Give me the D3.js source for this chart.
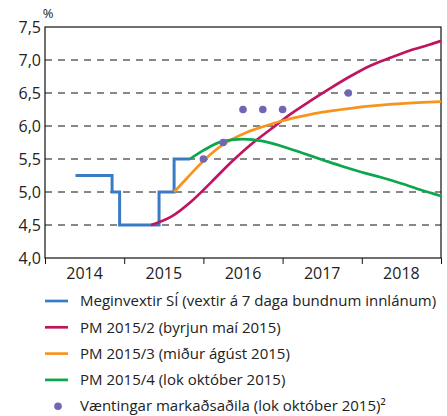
<!DOCTYPE html>
<html>
<head>
<meta charset="utf-8">
<script src="https://cdn.jsdelivr.net/npm/d3@7"></script>
<style>
  body { margin: 0; background: #fff; }
  text { font-family: "Open Sans", sans-serif; fill: #222; }
</style>
</head>
<body>
<svg id="chart" width="447" height="416"></svg>
<script>
// policy rate (step series), decimal years
var rateT = [2014.385, 2014.847, 2014.942, 2015.44, 2015.63, 2015.83];
var rateV = [5.25, 5.00, 4.50, 5.00, 5.50, 5.50];

// PM 2015/2
var pm2T = [2015.34, 2015.6, 2015.85, 2016.1, 2016.35, 2016.6, 2016.85, 2017.1, 2017.35, 2017.6, 2017.85, 2018.1, 2018.35, 2018.6, 2018.85, 2019.0];
var pm2V = [4.50, 4.63, 4.86, 5.15, 5.45, 5.72, 5.95, 6.18, 6.38, 6.57, 6.75, 6.91, 7.03, 7.14, 7.23, 7.29];

// PM 2015/3
var pm3T = [2015.63, 2015.8, 2016.0, 2016.25, 2016.5, 2016.75, 2017.0, 2017.25, 2017.5, 2017.75, 2018.0, 2018.5, 2019.0];
var pm3V = [5.00, 5.22, 5.47, 5.72, 5.88, 5.99, 6.08, 6.15, 6.21, 6.25, 6.29, 6.34, 6.37];

// PM 2015/4
var pm4T = [2015.83, 2016.0, 2016.25, 2016.5, 2016.75, 2017.0, 2017.25, 2017.5, 2017.75, 2018.0, 2018.25, 2018.5, 2018.75, 2019.0];
var pm4V = [5.50, 5.63, 5.77, 5.80, 5.77, 5.69, 5.59, 5.49, 5.39, 5.30, 5.22, 5.13, 5.03, 4.94];

// market expectations
var mktT = [2016.0, 2016.25, 2016.5, 2016.75, 2017.0, 2017.83];
var mktV = [5.5, 5.75, 6.25, 6.25, 6.25, 6.5];

var years = [2014, 2015, 2016, 2017, 2018];
var yTicks = [4.0, 4.5, 5.0, 5.5, 6.0, 6.5, 7.0, 7.5];

var legendLabels = [
  "Meginvextir SÍ (vextir á 7 daga bundnum innlánum)",
  "PM 2015/2 (byrjun maí 2015)",
  "PM 2015/3 (miður ágúst 2015)",
  "PM 2015/4 (lok október 2015)",
  "Væntingar markaðsaðila (lok október 2015)²"
];
var colors = ["#3a7cc4", "#c0155e", "#f7941e", "#0ca64f", "#6f66b4"];

var mLeft = 45, mRight = 441, mTop = 27, mBottom = 258;

var x = d3.scaleLinear().domain([2014, 2019]).range([mLeft, mRight]);
var y = d3.scaleLinear().domain([4, 7.5]).range([mBottom, mTop]);

var loc = d3.formatLocale({ decimal: ",", thousands: ".", grouping: [3], currency: ["", ""] });
var fmt = loc.format(".1f");

var svg = d3.select("#chart");

// dashed grid
svg.append("g")
  .selectAll("line")
  .data(yTicks.filter(d => d > 4 && d < 7.5))
  .join("line")
  .attr("x1", mLeft).attr("x2", mRight)
  .attr("y1", d => y(d)).attr("y2", d => y(d))
  .attr("stroke", "#111")
  .attr("stroke-width", 1)
  .attr("stroke-dasharray", "7,6");

// y labels
svg.append("g")
  .selectAll("text")
  .data(yTicks)
  .join("text")
  .attr("x", mLeft - 4)
  .attr("y", d => y(d))
  .attr("dy", "0.35em")
  .attr("text-anchor", "end")
  .attr("font-size", 16)
  .text(d => fmt(d));

svg.append("text")
  .attr("x", 48).attr("y", 18)
  .attr("text-anchor", "middle")
  .attr("font-size", 13)
  .text("%");

// x axis ticks
var xAxis = d3.axisBottom(x)
  .tickValues(years.concat([2019]))
  .tickSize(6)
  .tickFormat("");
svg.append("g")
  .attr("transform", "translate(0," + mBottom + ")")
  .call(xAxis)
  .call(g => g.select(".domain").remove())
  .selectAll("line").attr("stroke", "#111");

svg.append("g")
  .selectAll("text")
  .data(years)
  .join("text")
  .attr("x", d => x(d + 0.5))
  .attr("y", mBottom + 21)
  .attr("text-anchor", "middle")
  .attr("font-size", 16)
  .text(d => d);

// frame
svg.append("rect")
  .attr("x", mLeft).attr("y", mTop)
  .attr("width", mRight - mLeft).attr("height", mBottom - mTop)
  .attr("fill", "none")
  .attr("stroke", "#111")
  .attr("stroke-width", 1.2);

// lines
var pts = (ts, vs) => ts.map((t, i) => [t, vs[i]]);

var step = d3.line().x(d => x(d[0])).y(d => y(d[1])).curve(d3.curveStepAfter);
var smooth = d3.line().x(d => x(d[0])).y(d => y(d[1])).curve(d3.curveMonotoneX);

svg.append("path")
  .attr("d", step(pts(rateT, rateV)))
  .attr("fill", "none").attr("stroke", colors[0]).attr("stroke-width", 3);

svg.append("path")
  .attr("d", smooth(pts(pm2T, pm2V)))
  .attr("fill", "none").attr("stroke", colors[1]).attr("stroke-width", 2.7);

svg.append("path")
  .attr("d", smooth(pts(pm3T, pm3V)))
  .attr("fill", "none").attr("stroke", colors[2]).attr("stroke-width", 2.7);

svg.append("path")
  .attr("d", smooth(pts(pm4T, pm4V)))
  .attr("fill", "none").attr("stroke", colors[3]).attr("stroke-width", 2.7);

svg.append("g")
  .selectAll("circle")
  .data(pts(mktT, mktV))
  .join("circle")
  .attr("cx", d => x(d[0]))
  .attr("cy", d => y(d[1]))
  .attr("r", 3.8)
  .attr("fill", colors[4]);

// legend
var lg = svg.append("g")
  .selectAll("g")
  .data(legendLabels)
  .join("g")
  .attr("transform", (d, i) => "translate(0," + (301 + i * 26.3) + ")");

lg.filter((d, i) => i < 4).append("line")
  .attr("x1", 45).attr("x2", 68)
  .attr("stroke", (d, i) => colors[i])
  .attr("stroke-width", 2.7);

lg.filter((d, i) => i == 4).append("circle")
  .attr("cx", 58).attr("cy", 0).attr("r", 3.8)
  .attr("fill", colors[4]);

lg.append("text")
  .attr("x", 80)
  .attr("dy", "0.35em")
  .attr("font-size", 15)
  .text(d => d);
</script>
</body>
</html>
